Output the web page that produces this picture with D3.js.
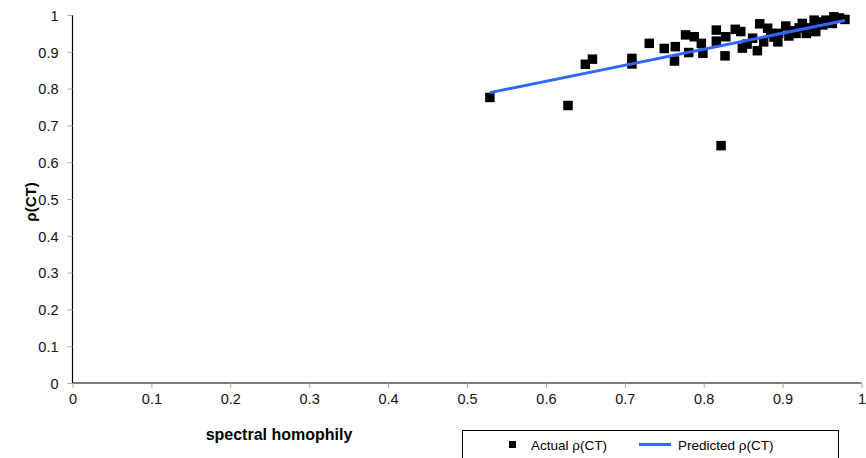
<!DOCTYPE html>
<html><head><meta charset="utf-8">
<script src="https://cdn.jsdelivr.net/npm/d3@7"></script>
<style>body{margin:0;background:#fff}svg{display:block;font-family:"Liberation Sans",Arial,sans-serif}</style>
</head><body><svg id="c" width="866" height="458"></svg>
<script>
const actualX = [0.529,0.628,0.650,0.659,0.709,0.709,0.731,0.750,0.764,0.763,0.777,0.781,0.788,0.797,0.799,0.816,0.816,0.828,0.827,0.840,0.847,0.849,0.855,0.862,0.868,0.871,0.881,0.885,0.894,0.895,0.904,0.908,0.917,0.925,0.930,0.934,0.940,0.942,0.951,0.955,0.965,0.963,0.979,0.822,0.876,0.921,0.946,0.972,0.889,0.912,0.936];
const actualY = [0.776,0.754,0.866,0.880,0.882,0.867,0.923,0.909,0.914,0.875,0.946,0.898,0.941,0.923,0.896,0.959,0.929,0.941,0.889,0.961,0.955,0.910,0.921,0.937,0.903,0.976,0.964,0.950,0.927,0.950,0.970,0.943,0.950,0.977,0.950,0.965,0.986,0.955,0.973,0.986,0.995,0.977,0.988,0.645,0.927,0.965,0.981,0.992,0.940,0.957,0.960];
const predX = [0.529,0.979];
const predY = [0.789,0.985];
const xTicks = [0,0.1,0.2,0.3,0.4,0.5,0.6,0.7,0.8,0.9,1];
const yTicks = [0,0.1,0.2,0.3,0.4,0.5,0.6,0.7,0.8,0.9,1];

const svg = d3.select("#c");
const x = d3.scaleLinear().domain([0,1]).range([72.5,861.5]);
const y = d3.scaleLinear().domain([0,1]).range([383,15]);

const xa = svg.append("g").attr("transform","translate(0,383)")
  .call(d3.axisBottom(x).tickValues(xTicks).tickFormat(d3.format("~g")).tickSize(5).tickPadding(6));
const ya = svg.append("g").attr("transform","translate(72.5,0)")
  .call(d3.axisLeft(y).tickValues(yTicks).tickFormat(d3.format("~g")).tickSize(5).tickPadding(9));
[xa,ya].forEach(a=>{
  a.attr("font-size",null).attr("font-family",null);
  a.select(".domain").attr("stroke","#000").attr("stroke-width",1.2);
  a.selectAll(".tick line").attr("stroke","#aaa");
  a.selectAll(".tick text").style("font-size","14.5px").attr("fill","#111");
});
xa.select(".domain").attr("d","M72.5,0H861.5");
ya.select(".domain").attr("d","M0,383V15");
ya.selectAll(".tick text").attr("dy","0.36em");

const sz = 9.5;
svg.append("g").selectAll("rect").data(actualX.map((v,i)=>[v,actualY[i]])).join("rect")
  .attr("x",d=>x(d[0])-sz/2).attr("y",d=>y(d[1])-sz/2).attr("width",sz).attr("height",sz)
  .attr("fill","#000");

svg.append("path").datum(predX.map((v,i)=>[v,predY[i]]))
  .attr("d",d3.line().x(d=>x(d[0])).y(d=>y(d[1])))
  .attr("stroke","#3366ff").attr("stroke-width",3).attr("fill","none");

svg.append("text").attr("x",279).attr("y",440).attr("text-anchor","middle")
  .style("font-size","16px").attr("font-weight","bold").text("spectral homophily");
svg.append("text").attr("transform","translate(36,202) rotate(-90)").attr("text-anchor","middle")
  .style("font-size","15px").attr("font-weight","bold").text("ρ(CT)");

const lg = svg.append("g");
lg.append("rect").attr("x",462.5).attr("y",430.5).attr("width",376).attr("height",40)
  .attr("fill","#fff").attr("stroke","#000").attr("stroke-width",1);
lg.append("rect").attr("x",509).attr("y",441).attr("width",7).attr("height",7).attr("fill","#000");
lg.append("text").attr("x",531).attr("y",450).style("font-size","13.5px").text("Actual ρ(CT)");
lg.append("line").attr("x1",639).attr("x2",671).attr("y1",444.5).attr("y2",444.5)
  .attr("stroke","#3366ff").attr("stroke-width",3);
lg.append("text").attr("x",678).attr("y",450).style("font-size","13.5px").text("Predicted ρ(CT)");
</script></body></html>
